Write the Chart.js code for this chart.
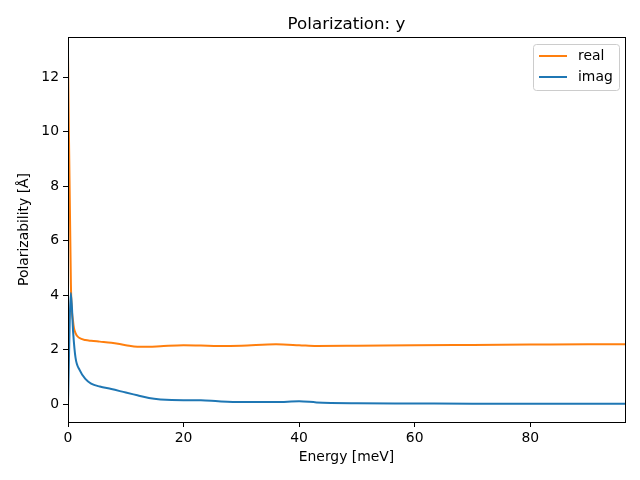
<!DOCTYPE html>
<html>
<head>
<meta charset="utf-8">
<script src="https://cdn.jsdelivr.net/npm/chart.js@4"></script>
<style>
    html, body { margin: 0; padding: 0; background: #fff; }
    #wrap { width: 640px; height: 480px; }
</style>
</head>
<body>
<div id="wrap"><canvas id="Grafico1" width="640" height="480"></canvas></div>
<script>
// energia en meV y polarizabilidad
const energia = [0, 0.5, 0.9, 1.3, 2, 3, 4, 5.5, 7.5, 10, 12, 14, 16, 20, 23, 26, 30, 36, 40, 43, 50, 60, 70, 80, 90, 96.4];
const parteReal = [12.83, 4.4, 3.0, 2.6, 2.42, 2.35, 2.32, 2.29, 2.25, 2.16, 2.1, 2.1, 2.12, 2.16, 2.15, 2.13, 2.14, 2.19, 2.16, 2.13, 2.14, 2.16, 2.17, 2.18, 2.19, 2.19];
const parteImag = [0, 4.07, 2.6, 1.7, 1.25, 0.92, 0.75, 0.64, 0.55, 0.42, 0.32, 0.22, 0.17, 0.14, 0.14, 0.1, 0.07, 0.07, 0.1, 0.06, 0.03, 0.02, 0.01, 0.01, 0.01, 0.01];
const ticksX = [0, 20, 40, 60, 80];
const ticksY = [0, 2, 4, 6, 8, 10, 12];
const etiquetas = ['real', 'imag'];
const colores = ['#ff7f0e', '#1f77b4'];
const titulo = 'Polarization: y';

const fuente = 'DejaVu Sans';

function puntos(xs, ys) {
    return xs.map((x, i) => ({ x: x, y: ys[i] }));
}

// marco completo, titulo y leyenda estilo matplotlib
const marco = {
    id: 'marco',
    afterDraw(chart) {
        const ctx = chart.ctx;
        const a = chart.chartArea;
        ctx.save();
        ctx.strokeStyle = '#000';
        ctx.lineWidth = 1;
        ctx.strokeRect(Math.round(a.left) + 0.5, Math.round(a.top) + 0.5, Math.round(a.right - a.left), Math.round(a.bottom - a.top));

        // titulo centrado sobre los ejes
        ctx.fillStyle = '#000';
        ctx.font = '16.7px "' + fuente + '"';
        ctx.textAlign = 'center';
        ctx.textBaseline = 'alphabetic';
        ctx.fillText(titulo, (a.left + a.right) / 2, 29);

        // leyenda
        const bx = 533.5, by = 44.5, bw = 86, bh = 46;
        ctx.fillStyle = 'rgba(255,255,255,0.8)';
        ctx.strokeStyle = '#cccccc';
        ctx.beginPath();
        ctx.roundRect(bx, by, bw, bh, 3);
        ctx.fill();
        ctx.stroke();
        ctx.font = '13.9px "' + fuente + '"';
        ctx.textAlign = 'left';
        ctx.textBaseline = 'middle';
        ctx.fillStyle = '#000';
        etiquetas.forEach((t, i) => {
            const y = 56 + i * 21;
            ctx.strokeStyle = colores[i];
            ctx.lineWidth = 2;
            ctx.beginPath();
            ctx.moveTo(539, y);
            ctx.lineTo(567, y);
            ctx.stroke();
            ctx.fillText(t, 578, y);
        });
        ctx.restore();
    }
};

let CanvasG1 = document.getElementById('Grafico1').getContext('2d');
let datos = {
    datasets: [{
            label: etiquetas[0],
            data: puntos(energia, parteReal),
            borderColor: colores[0],
            borderWidth: 2,
            pointRadius: 0,
            fill: false,
            cubicInterpolationMode: 'monotone',
            order: 1
        },
        {
            label: etiquetas[1],
            data: puntos(energia, parteImag),
            borderColor: colores[1],
            borderWidth: 2,
            pointRadius: 0,
            fill: false,
            cubicInterpolationMode: 'monotone',
            order: 0
        }
    ]
};
let opciones = {
    responsive: false,
    animation: false,
    layout: { padding: { left: 0, right: 15, top: 37, bottom: 0 } },
    plugins: {
        legend: { display: false },
        tooltip: { enabled: false },
        title: { display: false }
    },
    scales: {
        x: {
            type: 'linear',
            min: 0,
            max: 96.4,
            afterBuildTicks: s => { s.ticks = ticksX.map(v => ({ value: v })); },
            afterFit: s => { s.height = 58; },
            grid: { drawOnChartArea: false, drawTicks: true, tickLength: 5, color: '#000' },
            border: { display: true, color: '#000' },
            ticks: { color: '#000', padding: 3, maxRotation: 0, font: { family: fuente, size: 13.9 } },
            title: {
                display: true,
                text: 'Energy [meV]',
                color: '#000',
                font: { family: fuente, size: 13.9 },
                padding: { top: 0, bottom: 14 }
            }
        },
        y: {
            type: 'linear',
            min: -0.66,
            max: 13.47,
            afterBuildTicks: s => { s.ticks = ticksY.map(v => ({ value: v })); },
            afterFit: s => { s.width = 68; },
            grid: { drawOnChartArea: false, drawTicks: true, tickLength: 5, color: '#000' },
            border: { display: true, color: '#000' },
            ticks: { color: '#000', padding: 4, font: { family: fuente, size: 13.9 } },
            title: {
                display: true,
                text: 'Polarizability [Å]',
                color: '#000',
                font: { family: fuente, size: 13.9 },
                padding: { top: 16, bottom: 0 }
            }
        }
    }
};
let G1 = new Chart(CanvasG1, {
    type: 'line',
    data: datos,
    options: opciones,
    plugins: [marco]
});
</script>
</body>
</html>
